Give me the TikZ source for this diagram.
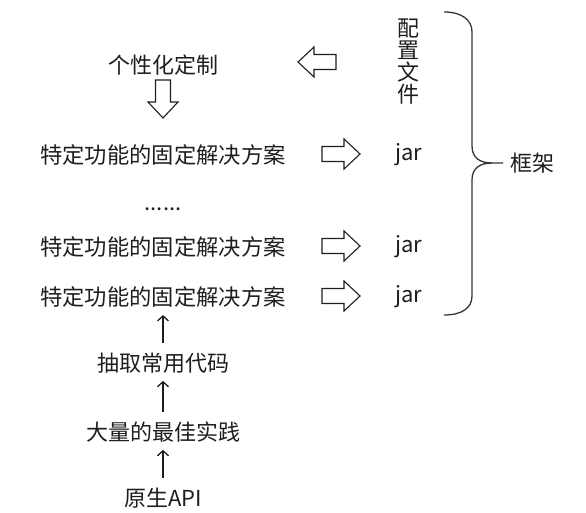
\documentclass[tikz,border=0pt]{standalone}
\usepackage{fontspec}
\setmainfont{Noto Sans CJK SC}
\usetikzlibrary{arrows.meta}
\definecolor{ink}{HTML}{1E1E1E}
\tikzset{
  lbl/.style={inner sep=0pt, text=ink, font=\fontsize{22bp}{22bp}\selectfont},
  rowlbl/.style={lbl, font=\fontsize{22.3bp}{22.3bp}\selectfont},
  uparrow/.style={draw=ink, line width=1.3bp, -{Straight Barb[length=5bp,width=11bp,line width=1.3bp]}, shorten >=7.5bp, shorten <=10bp},
  brace/.style={draw=ink!90, line width=1.3bp},
  hollow/.pic={\draw[ink, line width=1.1bp, line join=miter]
     (-19,-7.5) -- (3,-7.5) -- (3,-15) -- (19,0) -- (3,15) -- (3,7.5) -- (-19,7.5) -- cycle;}
}
\begin{document}
\begin{tikzpicture}[x=1bp,y=-1bp]
\useasboundingbox (0,0) rectangle (586,513);
% left column
\node[lbl] (custom) at (163,65) {个性化定制};
\node[rowlbl] (r1) at (163,155) {特定功能的固定解决方案};
\node[lbl] (dots) at (163,209) {......};
\node[rowlbl] (r2) at (163,247) {特定功能的固定解决方案};
\node[rowlbl] (r3) at (163,297) {特定功能的固定解决方案};
\node[lbl] (c1) at (163,363) {抽取常用代码};
\node[lbl] (c2) at (163,432) {大量的最佳实践};
\node[lbl] (api) at (163,498) {原生API};
% right column
\node[lbl, align=center] (cfg) at (408,62) {配\\置\\文\\件};
\node[lbl] (j1) at (409,155) {jar};
\node[lbl] (j2) at (409,247) {jar};
\node[lbl] (j3) at (409,297) {jar};
\node[lbl] (fw) at (532,163) {框架};
% hollow arrows
\pic[rotate=180] at (317,62) {hollow};
\pic[rotate=-90] at (163,99) {hollow};
\pic at (341,154) {hollow};
\pic at (341,246) {hollow};
\pic at (341,296) {hollow};
% thin up arrows
\draw[uparrow] (c1) -- (r3);
\draw[uparrow] (c2) -- (c1);
\draw[uparrow] (api) -- (c2);
% brace
\coordinate (btip) at (503,163);
\draw[brace] (444,12) .. controls (462,12) and (472,20) .. (472,32) -- (472,146)
   .. controls (472,158) and (480,163) .. (492,163) -- (btip);
\draw[brace] (492,163) .. controls (480,163) and (472,168) .. (472,180) -- (472,296)
   .. controls (472,308) and (462,315) .. (444,315);
\end{tikzpicture}
\end{document}
